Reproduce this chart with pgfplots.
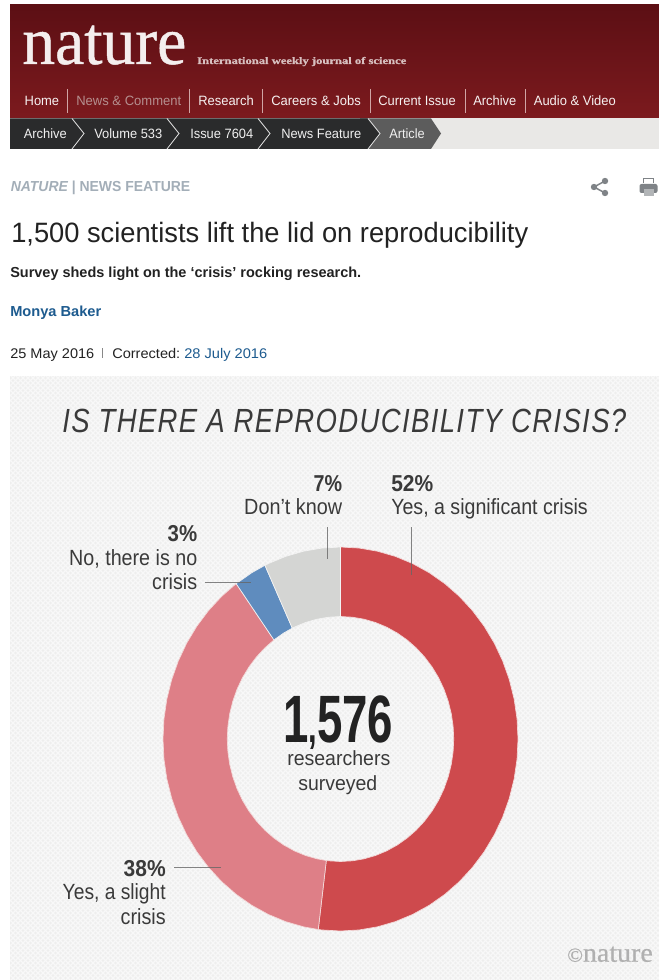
\documentclass[border=0pt]{standalone}
\usepackage{graphicx}
\usepackage{fontspec}
\setmainfont{Liberation Sans}
\newfontfamily\serif{Liberation Serif}[FakeBold=0.7]
\usepackage{pgfplots}
\pgfplotsset{compat=1.18}
\newdimen\pxu \pxu=0.75pt
\tikzset{px/.style={x=0.75pt,y=0.75pt}}
\definecolor{sigred}{HTML}{CE4A4D}
\definecolor{slightred}{HTML}{DE7F87}
\definecolor{noblue}{HTML}{5F8CBE}
\definecolor{dkgray}{HTML}{D4D5D3}
\definecolor{panel}{HTML}{EEEEED}
\definecolor{weave}{HTML}{F8F8F8}
\definecolor{inktext}{HTML}{3A3A3A}
\definecolor{linkblue}{HTML}{1D5B8F}
\definecolor{mastA}{HTML}{5C0F14}
\definecolor{mastB}{HTML}{7C1A1E}
\definecolor{strip}{HTML}{E9E8E6}
\definecolor{crumbdark}{HTML}{2A2B2C}
\definecolor{crumblast}{HTML}{5C5C5C}
\definecolor{crumbline}{HTML}{E4E4E4}
\definecolor{navrule}{HTML}{D0A5A5}
\definecolor{logotext}{HTML}{F4EEEE}
\definecolor{tagline}{HTML}{D8C0C0}
\definecolor{navtext}{HTML}{F6F1F1}
\definecolor{navdim}{HTML}{B58F8F}
\definecolor{crumbtext}{HTML}{F0F0F0}
\definecolor{kicker}{HTML}{A3AEB8}
\definecolor{icon}{HTML}{7F8387}
\definecolor{headtext}{HTML}{222222}
\definecolor{datebar}{HTML}{888888}
\definecolor{leader}{HTML}{666666}
\definecolor{wedgeedge}{HTML}{F3D9D9}
\definecolor{wedgeedgeb}{HTML}{F3F3F3}
\definecolor{credit}{HTML}{B0B0B0}
% x, baseline y, anchor, width, font size (all in page pixels), colour, text
\newcommand\T[7]{\node[anchor=#3,inner sep=0pt,text=#6] at (#1,-#2)
  {\resizebox{#4\pxu}{\height}{\fontsize{#5\pxu}{#5\pxu}\selectfont #7}};}
\begin{document}
\begin{tikzpicture}
\begin{scope}[px]
\useasboundingbox (0,0) rectangle (659,-980);
\fill[white] (0,0) rectangle (659,-980);
% masthead
\shade[top color=mastA,bottom color=mastB] (10,-5) rectangle (659,-118);
\fill[strip] (10,-118) rectangle (659,-149);
\fill[crumblast] (360,-118.5) -- (431,-118.5) -- (441,-133.5) -- (431,-149) -- (360,-149) -- cycle;
\fill[crumbdark] (10,-118.5) -- (368,-118.5) -- (380,-133.5) -- (368,-149) -- (10,-149) -- cycle;
\foreach \c in {72,167,258,368}
  \draw[crumbline,line width=0.6pt] (\c,-118.5) -- (\c+12,-133.5) -- (\c,-149);
\foreach \c in {67,189,262,370,465,525}
  \draw[navrule,line width=0.6pt] (\c,-89) -- (\c,-113);
\T{22}{64}{base west}{164}{68}{logotext}{\serif nature}
\T{197}{64}{base west}{209}{10}{tagline}{\serif\bfseries International weekly journal of science}
\T{24.4}{106}{base west}{34.5}{13.5}{navtext}{Home}
\T{76}{106}{base west}{105}{13.5}{navdim}{News \& Comment}
\T{198}{106}{base west}{55.5}{13.5}{navtext}{Research}
\T{271}{106}{base west}{89.5}{13.5}{navtext}{Careers \& Jobs}
\T{378}{106}{base west}{77.5}{13.5}{navtext}{Current Issue}
\T{473}{106}{base west}{43}{13.5}{navtext}{Archive}
\T{533.6}{106}{base west}{82}{13.5}{navtext}{Audio \& Video}
\T{23.5}{138.5}{base west}{43}{13.5}{crumbtext}{Archive}
\T{94}{138.5}{base west}{68}{13.5}{crumbtext}{Volume 533}
\T{190}{138.5}{base west}{63}{13.5}{crumbtext}{Issue 7604}
\T{281}{138.5}{base west}{80}{13.5}{crumbtext}{News Feature}
\T{389}{138.5}{base west}{35.5}{13.5}{crumbtext}{Article}
% article head
\T{10.5}{191.5}{base west}{179.5}{14.5}{kicker}{\bfseries\itshape NATURE\upshape\ | NEWS FEATURE}
\foreach \a/\b in {605/181,594/187,605/193}
  {\fill[icon] (\a,-\b) circle (3.2);}
\draw[icon,line width=1.1pt] (605,-181) -- (594,-187) -- (605,-193);
\fill[icon,rounded corners=1.5pt] (639.5,-184) rectangle (657.5,-193);
\fill[icon] (643,-178) rectangle (654,-183);
\fill[white] (644,-179.5) rectangle (653,-183.5);
\fill[icon!60] (643.5,-189) rectangle (653.5,-196);
\T{11}{243}{base west}{517}{28}{headtext}{1,500 scientists lift the lid on reproducibility}
\T{10}{277}{base west}{351}{14.5}{headtext}{\bfseries Survey sheds light on the ‘crisis’ rocking research.}
\T{10}{316}{base west}{91}{14.5}{linkblue}{\bfseries Monya Baker}
\T{10}{358}{base west}{84}{14}{headtext}{25 May 2016}
\draw[datebar,line width=0.5pt] (102,-348) -- (102,-358);
\T{112}{358}{base west}{68}{14}{headtext}{Corrected:}
\T{184}{358}{base west}{83}{14}{linkblue}{28 July 2016}
% chart panel with its fine woven ground
\fill[panel] (10,-376) rectangle (659,-980);
\begin{scope}
\clip (10,-376) rectangle (659,-980);
\foreach \k in {0,5,...,1255} {
  \draw[weave,line width=1pt] (10+\k,-376) -- (10+\k-604,-980);
  \draw[weave,line width=1pt] (10+\k-604,-376) -- (10+\k,-980);
}
\end{scope}
\end{scope}

% donut: angles are cumulative shares 52, 38, 3, 7 percent, clockwise from the top
\begin{axis}[at={(255.375pt,-554.25pt)},anchor=center,scale only axis,
  width=266.25pt,height=288pt,xmin=-1,xmax=1,ymin=-1,ymax=1,hide axis,clip=false,
  data cs=polar,no markers]
\addplot[fill=sigred,draw=wedgeedge,line width=0.5pt] coordinates {
 (90,1)(84,1)(78,1)(72,1)(66,1)(60,1)(54,1)(48,1)(42,1)(36,1)(30,1)(24,1)(18,1)(12,1)(6,1)(0,1)
 (-6,1)(-12,1)(-18,1)(-24,1)(-30,1)(-36,1)(-42,1)(-48,1)(-54,1)(-60,1)(-66,1)(-72,1)(-78,1)(-84,1)(-90,1)(-96,1)(-97.2,1)
 (-97.2,0.638)(-96,0.638)(-90,0.638)(-84,0.638)(-78,0.638)(-72,0.638)(-66,0.638)(-60,0.638)(-54,0.638)(-48,0.638)(-42,0.638)(-36,0.638)(-30,0.638)(-24,0.638)(-18,0.638)(-12,0.638)(-6,0.638)
 (0,0.638)(6,0.638)(12,0.638)(18,0.638)(24,0.638)(30,0.638)(36,0.638)(42,0.638)(48,0.638)(54,0.638)(60,0.638)(66,0.638)(72,0.638)(78,0.638)(84,0.638)(90,0.638)
} -- cycle;
\addplot[fill=slightred,draw=wedgeedge,line width=0.5pt] coordinates {
 (-97.2,1)(-102,1)(-108,1)(-114,1)(-120,1)(-126,1)(-132,1)(-138,1)(-144,1)(-150,1)(-156,1)(-162,1)(-168,1)(-174,1)(-180,1)
 (-186,1)(-192,1)(-198,1)(-204,1)(-210,1)(-216,1)(-222,1)(-228,1)(-234,1)
 (-234,0.638)(-228,0.638)(-222,0.638)(-216,0.638)(-210,0.638)(-204,0.638)(-198,0.638)(-192,0.638)(-186,0.638)
 (-180,0.638)(-174,0.638)(-168,0.638)(-162,0.638)(-156,0.638)(-150,0.638)(-144,0.638)(-138,0.638)(-132,0.638)(-126,0.638)(-120,0.638)(-114,0.638)(-108,0.638)(-102,0.638)(-97.2,0.638)
} -- cycle;
\addplot[fill=noblue,draw=wedgeedgeb,line width=0.5pt] coordinates {
 (-234,1)(-240,1)(-244.8,1)(-244.8,0.638)(-240,0.638)(-234,0.638)
} -- cycle;
\addplot[fill=dkgray,draw=wedgeedgeb,line width=0.5pt] coordinates {
 (-244.8,1)(-246,1)(-252,1)(-258,1)(-264,1)(-270,1)
 (-270,0.638)(-264,0.638)(-258,0.638)(-252,0.638)(-246,0.638)(-244.8,0.638)
} -- cycle;
\end{axis}

\begin{scope}[px]
% leaders and chart text
\foreach \a/\b/\c/\d in {327/527/327/559,411.8/527/411.8/575,205/582/251/582,174/867.7/221/867.7}
  \draw[leader,opacity=0.8,line width=0.6pt] (\a,-\b) -- (\c,-\d);
\T{62}{432.7}{base west}{564}{33.5}{inktext}{\addfontfeature{LetterSpace=5}\itshape IS THERE A REPRODUCIBILITY CRISIS?}
\T{342.5}{491.7}{base east}{28.5}{23}{inktext}{\bfseries 7\%}
\T{342.5}{514}{base east}{98}{22}{inktext}{Don’t know}
\T{391}{491.7}{base west}{42}{23}{inktext}{\bfseries 52\%}
\T{391}{514}{base west}{196.5}{22}{inktext}{Yes, a significant crisis}
\T{197.5}{541.7}{base east}{29.5}{23}{inktext}{\bfseries 3\%}
\T{197.5}{565}{base east}{128}{22}{inktext}{No, there is no}
\T{197.5}{589}{base east}{45}{22}{inktext}{crisis}
\T{166}{876.7}{base east}{42}{23}{inktext}{\bfseries 38\%}
\T{166}{899.3}{base east}{103}{22}{inktext}{Yes, a slight}
\T{166}{924}{base east}{45}{22}{inktext}{crisis}
\T{283}{742}{base west}{110}{67}{headtext}{\bfseries 1{\fontsize{34pt}{34pt}\selectfont ,}576}
\T{287}{765}{base west}{103}{20.5}{inktext}{researchers}
\T{298}{790}{base west}{79}{20.5}{inktext}{surveyed}
\T{567}{961.7}{base west}{85.5}{27}{credit}{\serif{\fontsize{15pt}{15pt}\selectfont ©}nature}
\end{scope}
\end{tikzpicture}
\end{document}
